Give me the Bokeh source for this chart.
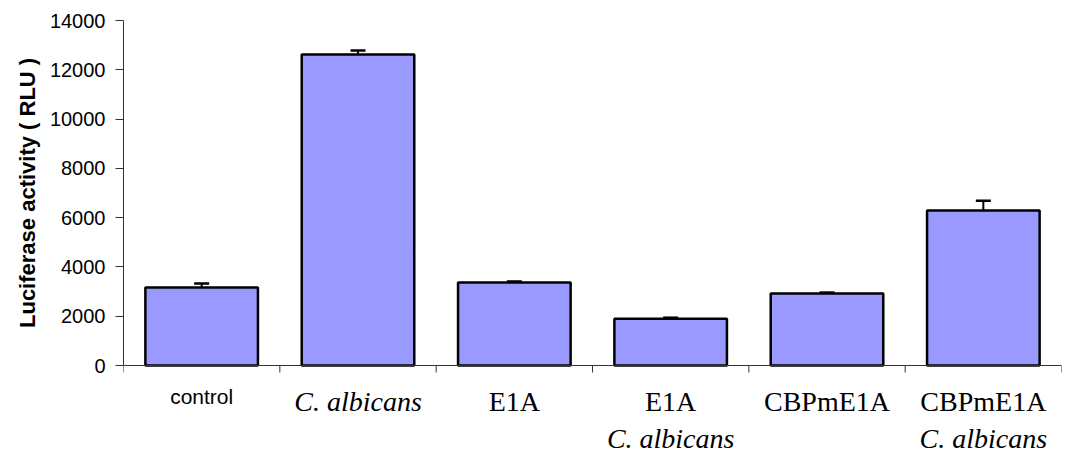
import math
from bokeh.plotting import figure
from bokeh.models import (Range1d, FixedTicker, Whisker, TeeHead, ColumnDataSource, Label,
                          Span, Title)
from bokeh.embed import file_html
from bokeh.resources import INLINE

# ---- data ----
categories = ["control", "C. albicans", "E1A", "E1A / C. albicans", "CBPmE1A", "CBPmE1A / C. albicans"]
values = [3170, 12620, 3370, 1900, 2920, 6290]
errors = [160, 160, 40, 40, 40, 400]
label_line1 = ["control", "C. albicans", "E1A", "E1A", "CBPmE1A", "CBPmE1A"]
label_line2 = ["", "", "", "C. albicans", "", "C. albicans"]
y_ticks = [0, 2000, 4000, 6000, 8000, 10000, 12000, 14000]
y_label = "Luciferase activity ( RLU )"

# ---- layout (pixels) ----
W, H = 1067, 451
LEFT, RIGHT, TOP = 123, 6, 20
AXIS_PX = 345                    # height in px of the 0..14000 value band
BELOW_PX = H - TOP - AXIS_PX     # room under the zero line for the category labels
y_max = y_ticks[-1]
unit_per_px = y_max / AXIS_PX

n = len(categories)
slot = [i + 0.5 for i in range(n)]          # centre of each category slot
upper = [v + e for v, e in zip(values, errors)]
src = ColumnDataSource(dict(x=slot, cat=categories, val=values, upper=upper))

p = figure(x_range=Range1d(0, n), y_range=Range1d(-BELOW_PX * unit_per_px, y_max),
           width=W, height=H, output_backend="svg", toolbar_location=None,
           x_axis_location=None,
           min_border_left=LEFT, min_border_right=RIGHT, min_border_top=TOP, min_border_bottom=0)

p.vbar(x="x", top="val", bottom=0, width=0.72, source=src,
       fill_color="#9999FF", line_color="black", line_width=2.5)

wh = Whisker(base="x", lower="val", upper="upper", source=src,
             line_color="black", line_width=2,
             upper_head=TeeHead(size=15, line_width=2.5, line_color="black"),
             lower_head=None)
p.add_layout(wh)

# y axis
ya = p.yaxis[0]
ya.ticker = FixedTicker(ticks=y_ticks)
ya.bounds = (0, y_max)
ya.minor_tick_line_color = None
ya.major_tick_in = 0
ya.major_tick_out = 8
ya.axis_line_color = "#333333"
ya.major_tick_line_color = "#333333"
ya.major_label_text_font = "Liberation Sans"
ya.major_label_text_font_size = "20px"
ya.major_label_text_color = "black"
ya.major_label_standoff = 10

# y axis title, centred on the 0..14000 band rather than on the whole frame
TITLE_LEN = 270  # approximate rendered length of the title in px
title_shift = BELOW_PX + (AXIS_PX - TITLE_LEN) / 2
p.add_layout(Title(text=y_label, align="left", offset=title_shift,
                   text_font="Liberation Sans", text_font_style="bold",
                   text_font_size="22px", text_color="black", standoff=14), "left")

# x axis line at zero and ticks at category boundaries
p.add_layout(Span(location=0, dimension="width", line_color="#333333", line_width=1))
p.ray(x=list(range(n + 1)), y=0, length=7, length_units="screen", angle=-math.pi / 2,
      line_color="#333333", line_width=1)

# category labels
def add_label(i, text, px_below, font, size, style="normal"):
    p.add_layout(Label(x=slot[i], y=-px_below * unit_per_px, text=text,
                       text_font=font, text_font_size=size, text_font_style=style,
                       text_align="center", text_baseline="alphabetic",
                       text_color="black"))

for i, (l1, l2) in enumerate(zip(label_line1, label_line2)):
    if l1 == "control":
        add_label(i, l1, 31, "Liberation Sans", "21px")
    else:
        add_label(i, l1, 36, "Liberation Serif", "28px",
                  "italic" if l1.startswith("C.") else "normal")
    if l2:
        add_label(i, l2, 73, "Liberation Serif", "28px", "italic")

p.xgrid.visible = False
p.ygrid.visible = False
p.outline_line_color = None
p.background_fill_color = "white"
p.border_fill_color = "white"

open("out.html", "w").write(file_html(p, INLINE))
